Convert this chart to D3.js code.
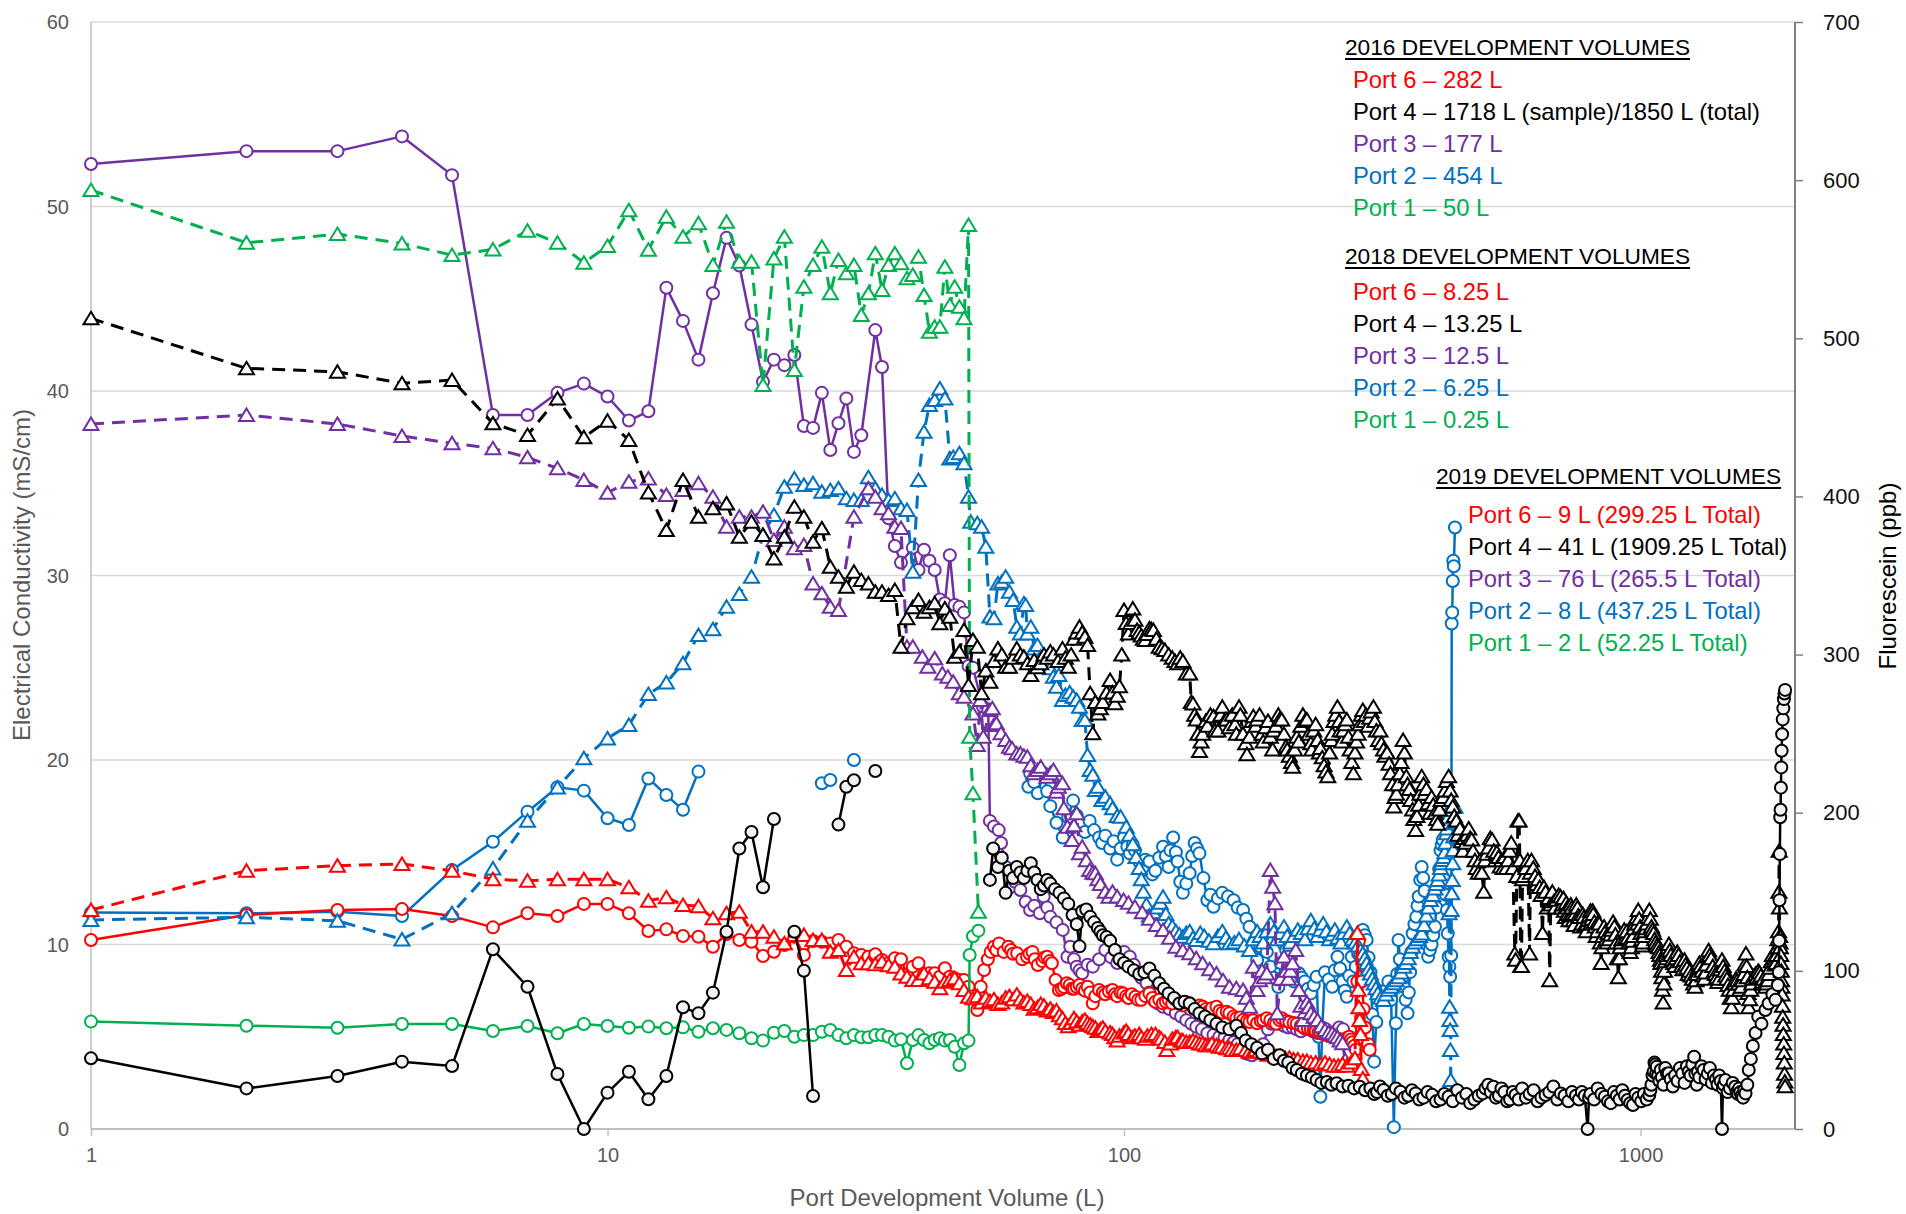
<!DOCTYPE html>
<html><head><meta charset="utf-8">
<script src="https://cdn.jsdelivr.net/npm/d3@7"></script>
<style>
body{margin:0;background:#fff}
svg{display:block}
text{font-family:"Liberation Sans",Arial,sans-serif}
</style>
</head><body>
<svg id="chart" width="1906" height="1214"></svg>
<script>
// ---------- tick labels ----------
const xTicks = [1, 10, 100, 1000];
const ecTicks = [0, 10, 20, 30, 40, 50, 60];
const fTicks = [0, 100, 200, 300, 400, 500, 600, 700];

// ---------- legend text ----------
const heading2016 = "2016 DEVELOPMENT VOLUMES";
const heading2018 = "2018 DEVELOPMENT VOLUMES";
const heading2019 = "2019 DEVELOPMENT VOLUMES";
const legend2016 = ["Port 6 – 282 L", "Port 4 – 1718 L (sample)/1850 L (total)", "Port 3 – 177 L", "Port 2 – 454 L", "Port 1 – 50 L"];
const legend2018 = ["Port 6 – 8.25 L", "Port 4 – 13.25 L", "Port 3 – 12.5 L", "Port 2 – 6.25 L", "Port 1 – 0.25 L"];
const legend2019 = ["Port 6 – 9 L (299.25 L Total)", "Port 4 – 41 L (1909.25 L Total)", "Port 3 – 76 L (265.5 L Total)", "Port 2 – 8 L (437.25 L Total)", "Port 1 – 2 L (52.25 L Total)"];
const portColors = ["#FF0000", "#000000", "#7030A0", "#0070C0", "#00B050"];

// ---------- Electrical conductivity (mS/cm), circles, solid ----------
const p1EC = [[1,5.82],[2,5.6],[3,5.49],[4,5.69],[5,5.69],[6,5.31],[7,5.58],[8,5.19],[9,5.69],[10,5.58],[11,5.49],[12,5.55],[13,5.46],[14,5.51],[15,5.27],[16,5.46],[17,5.37],[18,5.19],[19,4.92],[20,4.79],[21,5.22],[22,5.31],[23,5.0],[24,5.09],[25,5.09],[26,5.27],[27,5.37],[28,5.09],[29,4.92],[30,5.09],[31,4.97],[32,4.97],[33,5.09],[34,5.09],[35,5.0],[36,4.79],[37,4.86],[38,3.56],[39,4.82],[40,5.09],[41,4.82],[42,4.65],[43,4.82],[44,4.92],[45,4.79],[46,4.82],[47,4.46],[48,3.47],[49,4.65],[50,4.79],[50.25,9.43],[51,10.45],[52.25,10.75]];

const p2EC = [[1,11.73],[2,11.69],[3,11.78],[4,11.54],[5,14.04],[6,15.57],[7,17.2],[8,18.52],[9,18.34],[10,16.84],[11,16.48],[12,19.0],[13,18.1],[14,17.3],[15,19.37],[16,null],[26,18.74],[27,18.92],[28,null],[30,20.0],[31,null],
[65.3,18.55],[65.8,19.28],[67,18.8],[68.1,18.2],[69.9,19.28],[71,18.3],[72,17.5],[74,16.6],[76.1,15.8],[78,16.9],[79.7,17.8],[81,17.0],[82,16.5],[84,16.1],[85.8,16.7],[87.5,16.2],[89.5,15.8],[90.7,15.5],[92,15.9],[94,15.2],[95.5,15.6],[97,14.6],[98.5,15.2],[100,15.8],[101.5,15.3],[102.6,14.94],[104,15.4],[105,15.1],[107,14.5],[108.7,14.04],[110,14.6],[112,14.5],[113.5,13.8],[115,14.0],[117,14.7],[119,15.3],[120.5,14.8],[122,14.2],[123,15.1],[124.5,15.8],[126,15.0],[127,14.5],[128.5,13.4],[130,12.8],[132,13.3],[134,13.86],[135.5,14.8],[137,15.5],[138.5,15.2],[140,14.94],[142.5,13.6],[145,12.4],[147,12.7],[149,12.05],[152,12.5],[155,12.8],[159,12.6],[163,12.4],[166,12.0],[170,11.87],[172.5,11.4],[175,10.96],[178,10.1],[181,9.16],[183.5,9.9],[186,10.5],[189,9.6],[192,8.8],[195,8.2],[199,7.7],[201,9.0],[204,10.0],[206,9.7],[208,9.34],[210.5,8.6],[213,8.0],[215.5,8.3],[218,8.44],[221,8.2],[224,8.0],[227,7.6],[230,7.35],[233,7.8],[236,8.25],[238,5.0],[240,1.75],[242,5.5],[245,8.5],[249,8.1],[253,7.71],[256,8.6],[259,9.34],[262,8.7],[265,8.0],[267.5,7.5],[270,7.17],[273,8.3],[276,9.34],[278,8.0],[281,8.8],[284,9.5],[287,10.2],[290,10.79],[292.5,10.5],[295,10.24],[297.5,9.3],[300,8.5],[302.5,6.2],[305,3.65],[308,5.8],[311,7.5],[314,7.2],[317,6.99],[321,7.5],[325,8.0],[329,7.0],[333,0.1],[336,5.73],[338,8.4],[340,10.24],[342,9.2],[344,8.5],[346,8.0],[348,7.71],[351,7.0],[354,6.27],[356,7.4],[358,8.5],[360,9.6],[362,10.6],[365,11.1],[368,11.5],[370,12.1],[372,12.6],[374.5,13.5],[377,14.2],[379.5,13.6],[382,12.9],[385,11.2],[388,9.34],[391,9.7],[394,10.0],[397,10.5],[400,10.96],[402.5,12.0],[405,13.0],[407.5,14.1],[410,15.1],[412,15.4],[414,15.66],[416,14.6],[418,13.5],[420,12.7],[422,11.87],[423.5,10.6],[425,9.34],[426.5,8.8],[428,8.25],[430,9.4],[431,27.4],[432,28.0],[433,29.7],[434,30.8],[435,30.5],[437.25,32.6]];

const p3EC = [[1,52.3],[2,53.0],[3,53.0],[4,53.8],[5,51.7],[6,38.7],[7,38.7],[8,39.9],[9,40.4],[10,39.7],[11,38.4],[12,38.9],[13,45.6],[14,43.8],[15,41.7],[16,45.3],[17,48.3],[18,46.8],[19,43.6],[20,40.5],[21,41.7],[22,41.4],[23,41.95],[24,38.1],[25,38.0],[26,39.9],[27,36.8],[28,38.25],[29,39.6],[30,36.7],[31,37.6],[33,43.3],[34,41.3],[35,33.1],[36,31.6],[37,30.7],[39,31.5],[40,30.3],[41,31.4],[42,30.8],[43,30.3],[44,28.7],[45,28.5],[46,31.1],[47,28.4],[48,28.3],[49,28.0],[50,25.1],[51,25.0],[53.3,22.9],[54.6,22.7],[55,16.7],[56,16.4],[57.2,16.2],[57.8,15.5],[59,14.2],[60.2,13.1],[61.5,13.4],[63,12.95],[64.5,12.3],[65.8,11.87],[67,12.1],[68.7,11.69],[69.9,12.6],[71,12.0],[72,11.5],[74,11.2],[76.1,10.79],[77.7,9.34],[78.7,9.88],[80,9.2],[81,8.8],[82,8.6],[83,8.44],[85,8.9],[87,8.8],[89.5,9.2],[92,9.7],[94.5,9.3],[97,9.0],[100,9.6],[102.6,9.34],[104.5,8.9],[106,8.5],[108,8.2],[110.6,7.9],[112,7.4],[114,7.0],[116.5,6.8],[119,6.63],[122.5,6.5],[126,6.27],[129,6.1],[132,5.9],[135,5.7],[138,5.54],[141.5,5.4],[145,5.19],[149,5.1],[153,5.0],[156.5,4.95],[160,4.82],[163,4.7],[166,4.6],[169,4.3],[172,4.1],[174.5,4.05],[177,4.0],[181,4.3],[186,4.6],[190,5.4],[193,5.7],[197,5.8],[200,5.7],[204,5.6],[208,5.5],[212,5.5],[216,5.4],[220,5.3],[224,5.45],[228,5.4],[232,5.3],[237,5.2],[241,5.35],[246,5.4],[250,5.2],[255,5.1],[258,5.3],[261,5.5],[265.5,5.4]];

const p4EC = [[1,3.83],[2,2.2],[3,2.87],[4,3.65],[5,3.41],[6,9.74],[7,7.71],[8,2.98],[9,0],[10,1.97],[11,3.1],[12,1.61],[13,2.87],[14,6.6],[15,6.27],[16,7.39],[17,10.69],[18,15.2],[19,16.1],[20,13.1],[21,16.8],[22,null],[23,10.69],[24,8.58],[25,1.79],[26,null],[28,16.5],[29,18.55],[30,18.9],[31,null],[33,19.4],[34,null],
[55,13.5],[55.8,15.2],[57,14.2],[58,14.7],[59,12.8],[60,14.0],[61,13.6],[62,14.2],[63,13.9],[64,13.6],[65,14.0],[66,14.4],[67,13.9],[68,13.5],[69,13.0],[70,13.2],[71,13.5],[72,13.3],[73.5,13.0],[75,12.8],[76.5,12.5],[78,12.2],[79.5,11.6],[81,11.1],[82,9.9],[83,11.8],[84.5,11.9],[86,11.5],[87.5,11.2],[89,10.9],[90,10.7],[91,10.5],[92.5,10.4],[94,10.2],[96,9.7],[98,9.2],[100,9.0],[102,8.8],[104.5,8.6],[107,8.4],[109.5,8.5],[112,8.7],[114.5,8.3],[117,7.9],[119.5,7.6],[122,7.35],[125,7.1],[128,6.8],[131,6.9],[134,6.8],[137,6.5],[140,6.27],[143.5,6.1],[147,5.9],[151,5.7],[155,5.5],[160,5.4],[165,5.6],[168.5,5.2],[172,4.8],[176.5,4.6],[181,4.4],[185,4.1],[190,4.3],[195,3.8],[200,4.0],[204,3.7],[208,3.6],[212,3.3],[216,3.2],[221,3.0],[226,2.9],[231,2.8],[236,2.65],[241,2.5],[247,2.55],[252,2.4],[258,2.48],[265,2.3],[272,2.35],[279,2.2],[286,2.29],[293,2.1],
[300,2.2],[305,1.9],[309,2.0],[313,2.3],[318,2.11],[324,1.8],[330,1.9],[336,2.2],[343,2.02],[349,1.7],[355,1.8],[361,2.1],[367,1.93],[373,1.6],[380,1.7],[387,2.0],[395,1.85],[402,1.5],[410,1.6],[417,1.9],[425,1.75],[433,1.5],[442,2.1],[451,1.7],[460,1.9],[468,1.4],[477,1.6],[486,1.8],[495,1.93],[501,2.2],[507,2.4],[513,2.0],[519,2.29],[525,1.7],[532,1.8],[538,2.2],[545,2.0],[552,1.5],[559,1.6],[566,2.0],[573,1.84],[581,1.6],[590,2.2],[600,1.7],[610,1.9],[621,2.1],[632,1.5],[643,1.7],[655,1.84],[666,2.0],[678,2.3],[690,1.6],[701,1.93],[713,1.8],[725,1.5],[737,2.0],[750,1.8],[760,1.6],[770,2.0],[780,1.8],[790,0],[795,1.7],[800,1.9],[813,1.6],[826,2.2],[840,1.9],[853,1.75],[865,1.5],[876,1.4],[888,2.0],[900,1.8],[911,1.6],[922,2.1],[933,1.8],[944,1.57],[955,1.4],[967,1.3],[978,1.9],[990,1.7],[1003,1.5],[1015,1.9],[1028,1.6],[1040,1.84],[1045,2.1],[1050,2.4],[1055,2.9],[1060,3.1],[1064,3.6],[1068,3.5],[1072,3.0],[1075,3.38],[1082,2.9],[1088,2.6],[1094,3.2],[1100,2.8],[1108,2.4],[1117,3.3],[1125,3.0],[1134,3.02],[1144,2.7],[1155,2.3],[1167,2.9],[1180,2.6],[1192,3.3],[1205,3.0],[1217,2.5],[1230,3.4],[1240,3.1],[1250,2.9],[1260,3.5],[1270,3.92],[1277,3.0],[1285,2.4],[1292,3.1],[1300,2.8],[1312,3.4],[1325,3.2],[1337,2.7],[1350,3.0],[1362,3.3],[1375,2.5],[1387,2.9],[1400,2.7],[1410,2.4],[1420,2.9],[1430,2.6],[1438,0],[1444,2.2],[1450,2.4],[1460,2.65],[1475,2.0],[1490,2.2],[1508,2.5],[1525,2.29],[1535,2.0],[1545,1.9],[1552,2.2],[1560,2.0],[1570,1.8],[1580,1.7],[1588,2.1],[1597,1.93],[1610,2.4],[1620,3.2],[1635,3.8],[1650,4.5],[1670,5.2],[1690,6.09],[1715,5.7],[1745,6.45],[1770,6.8],[1800,7.3],[1825,7.0],[1845,7.8],[1852,8.5],[1855,10.2],[1858,12.4],[1861,14.9],[1864,16.9],[1867,17.3],[1870,18.5],[1873,19.6],[1876,20.5],[1880,21.4],[1885,22.2],[1890,22.8],[1895,23.3],[1900,23.6],[1905,23.8]];

const p6EC = [[1,10.24],[2,11.6],[3,11.87],[4,11.92],[5,11.54],[6,10.93],[7,11.69],[8,11.54],[9,12.2],[10,12.2],[11,11.69],[12,10.73],[13,10.82],[14,10.46],[15,10.42],[16,9.88],[17,10.57],[18,10.24],[19,10.15],[20,9.38],[21,9.61],[22,9.97],[23,10.42],[24,9.43],[25,10.19],[26,10.15],[27,10.06],[28,10.24],[29,9.88],[30,9.52],[31,9.43],[32,9.34],[33,9.47],[34,9.16],[35,8.98],[36,9.25],[37,9.2],[38,8.35],[39,8.8],[40,8.98],[41,8.35],[42,8.44],[43,8.44],[44,8.25],[45,8.71],[46,8.25],[47,8.17],[48,8.08],[49,8.08],[50,7.71],[51,7.2],[52,6.45],[52.8,7.71],[53.6,8.62],[54.5,9.2],[55.2,9.6],[56,9.88],[56.6,9.7],[57.3,10.06],[58.5,9.6],[59.7,9.88],[60.4,9.7],[61,9.5],[62.1,9.52],[63.5,9.2],[64.9,9.34],[65.6,9.5],[66.5,9.6],[67.2,9.2],[68.1,8.89],[69.5,9.1],[70.2,9.3],[71,9.34],[71.8,9.1],[72.5,8.98],[73.7,8.08],[74.8,7.53],[75.7,7.6],[76.5,7.7],[77.5,7.9],[78.5,7.8],[79.3,7.6],[80,7.6],[81,7.7],[82,7.8],[83,7.6],[84,7.5],[85,7.71],[86,7.4],[87,6.81],[88,7.2],[89.5,7.53],[91,7.4],[92,7.3],[93.5,7.45],[95,7.53],[96,7.3],[97,7.2],[98.5,7.4],[99.6,7.35],[101,7.2],[102,7.1],[103.5,7.3],[105.2,7.17],[106.5,7.0],[108,7.0],[110,7.2],[112,7.35],[113.5,7.1],[115,6.9],[117,7.0],[118.9,6.81],[120.5,6.9],[122,7.0],[124,6.8],[126,6.99],[128,6.8],[130,6.7],[132,6.85],[134,6.81],[136,6.6],[138,6.5],[140,6.7],[142,6.63],[144,6.5],[146,6.4],[148,6.55],[151,6.63],[153,6.4],[155,6.3],[158,6.35],[160,6.27],[163,6.1],[165,6.0],[168,6.05],[170,5.91],[173,5.85],[175,5.8],[178,5.9],[181,5.73],[184,5.85],[186,5.9],[189,6.0],[192,5.9],[195,5.75],[197,5.7],[200,5.9],[202,6.0],[206,5.85],[209,5.8],[213,5.75],[216,5.7],[220,5.6],[223,5.5],[227,5.45],[230,5.4],[233,5.35],[235,5.3],[238,5.25],[240,5.2],[243,5.15],[246,5.1],[250,5.05],[253,5.0],[256,4.95],[259,4.9],[262,4.85],[265,4.8],[267,4.85],[269,4.9],[271,4.95],[273,5.0],[275,4.85],[277,4.7],[279,4.5],[281,4.3],[283,8.0],[285,10.2],[287,9.5],[289,8.0],[291,6.5],[293,5.5],[295,4.5],[297,4.6],[299,4.3]];

// ---------- Fluorescein (ppb), triangles, dashed ----------
const p1F = [[1,593.7],[2,560.4],[3,565.9],[4,560],[5,552.6],[6,556.2],[7,568],[8,560.4],[9,547.8],[10,558.3],[11,581],[12,556],[13,576.9],[14,564.2],[15,572.7],[16,546.3],[17,573.7],[18,548.4],[19,548.4],[20,470.4],[21,550.5],[22,564.2],[23,479.9],[24,532.6],[25,546.3],[26,557.9],[27,528.5],[28,549.5],[29,541.1],[30,546.3],[31,514.7],[32,528.4],[33,553.7],[34,530.5],[35,546.3],[36,553.7],[37,547.4],[38,537.9],[39,540],[40,551.6],[41,527.3],[42,504.2],[43,507.3],[44,507.3],[45,545.3],[46,521],[47,532.6],[48,520],[49,512.6],[50,571.6],[50.25,248],[51,212.3],[52.25,137.4]];

const p2F = [[1,132.2],[2,133.9],[3,131.7],[4,119.9],[5,136.4],[6,164.8],[7,194.9],[8,216],[9,234.4],[10,247],[11,255.5],[12,275],[13,282.3],[14,294.5],[15,312.3],[16,316],[17,330.3],[18,338.3],[19,349.2],[20,375.6],[21,388.2],[22,406.1],[23,411.4],[24,407.2],[25,408.3],[26,403],[27,404],[28,405.1],[29,398.8],[30,397.7],[31,397.7],[32,412.1],[33,405.1],[34,400.9],[35,397.7],[36,398.8],[37,392.5],[38,391.4],[39,352.4],[40,410.4],[41,440.9],[42,457.8],[43,461],[44,468.3],[45,462],[46,424],[46.7,425],[48,427.3],[49,421],[50,399.8],[50.5,384],[52,383],[53,380.8],[54,368.2],[55,324],[56,323],[57,345],[58,346],[59,349.2],[60,339.7],[61,334.5],[62,317.6],[63,313.4],[64,332.4],[64.5,331.3],[65,313.4],[66,317.6],[67,303.9],[68,306],[69,298.6],[70,298.6],[71,292.3],[72,291.3],[73,286],[74,279.7],[74.8,287.1],[76,271.3],[77,274.4],[78.5,276],[79.7,273.4],[81,271.3],[82,267],[83,258.6],[84,258.6],[85,236.5],[86,227],[87,224],[88,214.4],[89,216.4],[90.6,208],[92,210.1],[94,206],[95,202.8],[97,198],[98.5,197.5],[101,191.1],[102.5,186],[104,180],[105.5,172],[107,165],[108,158],[109,150],[110.5,142],[112,135],[114,137],[116,140],[117.5,143],[119,146.9],[120.5,136],[122,130],[124,128],[126,125],[128,123],[130,121.6],[132,124],[134,125],[136,121],[138,119.5],[140.5,124],[143,122],[146,119],[149,117.4],[152,122],[155,125],[157.5,121],[160,117.4],[163.5,118],[167,120],[171,116],[175,113.2],[178,120],[181,125],[183.5,122],[186,118],[189,125],[192,130],[195,125],[198,120],[201,124],[204,128],[207,122],[210,118],[213.5,122],[217,126],[220.5,124],[224,120],[227,127],[230,132],[233.5,127],[237,122],[240,126],[243,130],[246.5,125],[250,120],[253,123],[256,126],[259.5,121],[263,118],[266.5,124],[270,128],[273.5,124],[277,120],[280.5,118],[284,116],[287,113],[290,111],[292.5,108],[295,105],[297.5,101],[300,98.4],[302.5,95],[305,92],[307.5,89],[310,85.8],[314,83],[318,81.6],[321.5,85],[325,88],[329,90],[333,92.1],[336.5,94],[340,96],[344,99],[348,102.6],[351.5,105],[355,108],[358.5,112],[362,115.3],[366,118],[370,120],[373.5,122],[377,123.7],[381,129],[385,135],[388.5,140],[392,144.8],[396,148],[400,152],[402.5,155],[405,157.4],[407.5,161],[410,165],[412,168],[414,170.1],[416,172],[418,175],[419.5,181],[421,187],[422,190],[423,193.3],[424,197],[425,201.7],[426,136.4],[427,77.3],[427.5,68.9],[428,62.6],[428.5,50],[429,31],[429.25,21.5],[430,138.5],[431,149],[432,157.4],[433,168],[434,176.4],[435,185],[436,194.3],[437.25,203.8]];

const p3F = [[1,445.8],[2,451.5],[3,445.8],[4,438.2],[5,433.6],[6,430.4],[7,424.7],[8,417.8],[9,410.4],[10,402.3],[11,409.3],[12,411.4],[13,400.9],[14,404],[15,408.3],[16,399.8],[17,380.8],[18,387.2],[19,387.2],[20,390.3],[21,372.4],[22,380.8],[23,367.2],[24,369.3],[25,345],[26,338.7],[27,330.3],[28,328.2],[30,387.2],[32,405.1],[33,399.8],[34,392.5],[35,389.3],[36,380.8],[37,380],[38,305],[39,305],[40.7,298.6],[41.7,292.3],[43,297.6],[44.5,288.1],[45.6,286],[46.7,282.8],[48,275.5],[49,273.4],[51,262.8],[52,242.8],[52.7,271.3],[53.4,248],[55,264.9],[55.6,266],[56,255.5],[56.6,256.5],[57.8,250.2],[59,246],[60,241.7],[60.7,240.7],[62,237.5],[63,237.5],[64,236],[65,235.4],[66,230],[66.9,224.9],[68,227],[69,229.1],[70.9,222.8],[72,225],[73,227],[74,213.3],[74.6,216.4],[76,218.6],[76.5,202.8],[77.7,191.1],[79.3,182.7],[80,192],[81,199.6],[82,174.3],[83,178.5],[84.5,170],[85.8,163.8],[87,162],[88,161.7],[89,158],[90,155],[92,150],[93.5,146.9],[95,150],[97,147],[99.8,144.8],[102,143],[105,140.6],[108.5,137],[112,133],[115.5,129],[119,125.8],[122.5,121],[126,115.3],[130,113],[134,111.1],[138,108],[142,104.8],[146.5,101],[151,98.4],[155.5,94],[160,90],[165,89],[170,87.9],[172.5,83],[175,77.3],[178,102.6],[181,87.9],[183,94],[185,100],[187,96],[189,98.4],[192,163.8],[194,153.2],[196,142.7],[198,73.2],[201,95],[204,109],[206,100],[208,95],[210,100],[212,104.8],[215,113.2],[218,87.9],[220,78],[222,68.9],[224,74],[226,80],[228,77],[230,73.2],[233.5,71],[237,68.9],[241,65],[245,62.6],[249,61],[253,60.5],[256,59],[259,58],[262,56],[265,54.2],[268,43.6]];

const p4F = [[1,512.6],[2,481],[3,478.8],[4,471.5],[5,473.6],[6,446.2],[7,438.8],[8,462],[9,437.4],[10,447.9],[11,435.7],[12,402.5],[13,378.7],[14,410.4],[15,387.2],[16,392.5],[17,395.6],[18,374.5],[19,384],[20,375.6],[21,360.8],[22,374.5],[23,393.5],[24,387.2],[25,371.4],[26,379.8],[27,355.5],[28,349.2],[29,342.9],[30,352.4],[31,347.1],[32,345],[33,339.7],[34,339.7],[35,337.6],[36,340.8],[37,305],[38,322.9],[39,330],[40,334.5],[41,327.1],[42,330],[43,332.4],[44,319.8],[45,329.2],[46,323.9],[47,298.6],[48,301.8],[49,315.5],[50,280.7],[51,309.2],[52,305],[53,275.5],[54,290],[55,282.8],[56,296],[57,303.9],[58,300],[59,292.3],[60,292.3],[61,298],[62,303.9],[63,300],[64,298.6],[65,294.5],[66,287.1],[67,296.5],[68,292],[69,294.5],[70,300],[71,298],[72,302],[73,300],[74.5,296],[76,303.9],[77,298],[78,292.3],[79,300],[80,310],[81,314],[82,317.6],[83,314],[84,311.3],[85,306],[86,275.5],[87,250.2],[88,270],[89,262.8],[90,266],[91,270],[92.5,276],[94,283.9],[95,276],[96,269.2],[97,274],[98,280],[99,300],[100,328.2],[101,320],[102,313.4],[103,320],[104,329.2],[105,322],[106,315.5],[107,314],[108,312],[109,310],[110,309.2],[111,313],[112,316.6],[113,316],[114,315.5],[115.5,310],[117,305],[118.5,304],[120,302.9],[122,300],[124,298],[125.5,296],[127,294.5],[128.5,298],[130,296],[132,288],[134,288],[135,270],[136,269],[137,262],[138,259],[139,250],[140,239],[141,245],[142,250],[144,258],[145,255],[147,262],[149,261],[150,252],[152,252],[154,262],[155,267],[157,259],[158,259],[160,254],[162,262],[164,256],[165,250],[167,267],[168,262],[170,250],[172,244],[173,237],[175,248],[177,258],[178,261],[180,255],[181,259],[183,262],[185,250],[186,245],[188,254],[190,258],[192,248],[194,240],[195,252],[197,255],[199,262],[200,259],[202,259],[204,250],[206,242],[207,240],[209,236],[211,232],[212,229],[214,240],[216,248],[218,245],[220,255],[222,262],[224,258],[226,259],[228,250],[230,244],[231,240],[233,252],[235,256],[237,246],[239,238],[240,241],[242,235],[244,230],[246,226],[248,223],[250,238],[252,246],[253,250],[255,258],[257,262],[259,267],[261,258],[262,252],[264,245],[266,252],[268,256],[270,259],[272,248],[274,240],[276,232],[278,225],[280,238],[282,245],[284,250],[286,256],[288,262],[290,265],[292,258],[294,262],[297,255],[299,260],[301,264],[304,267],[306,258],[308,252],[311,246],[313,252],[315,244],[318,240],[320,236],[323,238],[326,231],[328,225],[331,218],[333,204],[335,210],[337,212],[339,218],[342,225],[344,232],[347,246],[349,238],[352,223],[354,218],[357,215],[359,208],[362,202],[364,196],[367,189],[369,198],[372,205],[374,212],[377,223],[380,218],[382,212],[385,215],[388,206],[391,200],[394,210],[397,205],[400,200],[403,196],[405,193],[408,202],[411,208],[415,210],[418,214],[421,220],[425,223],[428,214],[430,208],[433,204],[436,198],[440,195],[443,186],[447,190],[450,182],[453,176],[456,184],[459,181],[462,186],[465,190],[468,184],[471,183],[474,176],[478,170],[481,165],[485,162],[489,170],[493,162],[497,150],[500,170],[504,174],[508,178],[512,184],[516,183],[520,176],[524,170],[527,175],[531,172],[535,166],[538,170],[542,165],[546,172],[550,165],[554,170],[558,176],[562,181],[566,165],[571,111],[573,107],[576,160],[579,195],[582,195],[584,170],[586,103],[588,103],[591,158],[595,160],[600,165],[605,170],[610,111],[612,162],[615,170],[620,165],[625,160],[630,155],[634,158],[638,153],[642,148],[646,124],[650,153],[655,150],[660,140],[664,146],[667,94],[670,142],[675,150],[680,144],[684,140],[688,145],[694,148],
[700,147],[703,140],[706,142],[709,146],[712,138],[715,134],[718,143],[721,140],[724,136],[727,132],[730,135],[733,142],[736,140],[739,136],[741,132],[744,129],[747,136],[751,142],[755,140],[758,135],[762,134],[766,128],[770,130],[773,136],[777,134],[781,129],[785,125],[788,130],[792,132],[796,135],[800,138],[802,130],[805,133],[808,138],[810,136],[814,131],[817,128],[821,122],[825,125],[828,131],[832,130],[836,118],[839,105],[842,115],[846,122],[850,128],[855,125],[858,120],[862,118],[866,124],[870,120],[875,123],[880,126],[885,131],[890,128],[894,123],[898,118],[902,108],[906,96],[910,108],[913,115],[917,118],[920,120],[925,124],[930,126],[935,121],[940,125],[945,121],[950,118],[955,112],[960,115],[964,119],[968,122],[971,127],[975,130],[979,133],[983,134],[987,130],[990,138.5],[994,133],[998,128],[1002,124],[1005,120],[1009,116],[1012,118],[1016,122],[1020,125],[1025,127],[1030,130],[1035,134],[1040,138.5],[1045,133],[1050,128],[1055,126],[1060,124],[1065,120],[1070,118],[1076,116],[1083,115],[1086,112],[1090,110],[1093,107],[1095,105],[1098,100],[1100,96],[1103,88],[1106,80],[1110,92],[1113,100],[1116,106],[1120,110],[1124,108],[1128,113],[1131,115],[1135,117],[1140,113],[1145,110],[1152,107],[1160,105],[1166,103],[1172,108],[1178,112],[1185,110],[1192,106],[1200,103],[1208,101],[1217,107],[1223,104],[1230,102],[1237,98],[1245,100],[1252,97],[1260,95],[1267,92],[1275,90],[1281,94],[1288,98],[1294,102],[1300,105],[1307,103],[1315,100],[1322,97],[1330,95],[1336,99],[1343,104],[1349,109],[1355,113],[1362,110],[1370,108],[1380,103],[1390,100],[1397,98],[1405,96],[1412,93],[1420,95],[1429,101],[1438,107],[1446,103],[1455,100],[1462,97],[1470,95],[1477,91],[1485,88],[1492,83],[1500,77],[1507,83],[1515,88],[1522,92],[1530,95],[1539,94],[1548,92],[1557,88],[1567,90],[1576,94],[1585,98],[1592,104],[1600,111],[1605,103],[1610,96],[1615,86],[1620,77],[1627,82],[1635,88],[1642,92],[1650,95],[1660,97],[1670,98],[1680,96],[1690,100],[1700,99],[1710,97],[1720,93],[1730,95],[1739,92],[1748,90],[1756,92],[1765,94],[1773,98],[1782,102],[1791,106],[1800,110],[1808,108],[1815,106],[1822,104],[1830,105],[1835,110],[1840,115],[1845,120],[1850,125],[1853,150],[1855,176],[1858,140],[1860,122],[1862,118],[1865,115],[1868,110],[1870,105],[1873,100],[1875,94],[1878,90],[1880,85],[1883,78],[1885,71],[1888,66],[1890,60],[1893,54],[1895,48],[1898,42],[1900,35],[1903,30],[1905,27]];

const p6F = [[1,138.5],[2,163.3],[3,166.5],[4,167.6],[5,163.3],[6,157.9],[7,157],[8,157.9],[9,157.9],[10,157.9],[11,152.8],[12,144.4],[13,146.5],[14,141.6],[15,140.9],[16,133.2],[17,136.4],[18,137.4],[19,124.8],[20,124.8],[21,121.6],[22,117.4],[23,122.7],[24,122.7],[25,119.5],[26,119.5],[27,112.1],[28,113.2],[29,100.5],[30,108.9],[31,104.8],[32,104.8],[33,104.2],[34,105.8],[35,103.6],[36,102.6],[37,98.4],[38,96.3],[39,94.2],[40,94.2],[41,98.4],[42,95.3],[43,93.1],[44,89],[45,93.1],[46,94.2],[47,95.3],[48,92.1],[49,87.9],[50,83.7],[51,82.6],[52,84],[53,80],[54,83],[55,81],[56,82],[57,79],[58,80],[59,83],[60,84],[61,82],[62,85],[63,82],[64,80],[65,81],[66,79],[67,76],[68,77],[69,79],[70,78],[71,75],[72,76],[73,74],[74,75],[75,72],[76,70],[77,67],[78,65],[79,67],[80,70],[81,68],[82,66],[83,68],[84,69],[85,67],[86,66],[87,65],[88,64],[89,62],[90,63],[91,64],[92,62],[94,61],[95,60],[96,58],[97,56],[98,59],[100,61],[101,62],[102,60],[104,58],[105,59],[107,60],[108,58],[110,57],[111,59],[113,60],[115,60],[117,58],[118,57],[120,55],[121,50],[123,54],[124,57],[126,58],[127,58],[129,56],[130,56],[132,55],[134,55],[136,56],[138,55],[140,54],[142,54],[144,53],[146,53],[148,54],[151,53],[153,52],[155,52],[158,51],[160,51],[162,50],[165,50],[168,51],[172,50],[175,49],[178,49],[180,50],[183,49],[186,48],[190,47],[193,48],[197,46],[201,46],[205,45],[209,45],[213,44],[217,44],[222,43],[226,43],[230,42],[235,42],[240,41],[245,42],[250,41],[255,40],[260,40],[265,41],[270,40],[275,42],[280,44.7],[283,124],[284,88],[285,77],[286,69],[287,60],[288,38],[290,32]];

// ---------- chart ----------
const svg = d3.select("#chart");
const L = 91, R = 1795, T = 22, B = 1129;
const x = d3.scaleLog().domain([1, 2000]).range([L, 1796]);
const yEC = d3.scaleLinear().domain([0, 60]).range([B, T]);
const yF = d3.scaleLinear().domain([0, 700]).range([B, T]);

// gridlines
svg.append("g").selectAll("line").data(ecTicks.filter(d => d > 0)).join("line")
  .attr("x1", L).attr("x2", R).attr("y1", d => yEC(d)).attr("y2", d => yEC(d))
  .attr("stroke", "#d9d9d9").attr("stroke-width", 1.5);

// left axis line & labels
svg.append("line").attr("x1", L).attr("x2", L).attr("y1", T).attr("y2", B)
  .attr("stroke", "#bfbfbf").attr("stroke-width", 1.5);
svg.append("g").selectAll("text").data(ecTicks).join("text")
  .attr("x", 69).attr("y", d => yEC(d)).attr("dy", "0.35em")
  .attr("text-anchor", "end").attr("font-size", 20).attr("fill", "#595959").text(d => d);

// bottom axis
const xAxis = d3.axisBottom(x).tickValues(xTicks).tickFormat(d3.format("d")).tickSize(7).tickPadding(12);
const gx = svg.append("g").attr("transform", `translate(0,${B})`).call(xAxis);
gx.select(".domain").attr("stroke", "#bfbfbf").attr("stroke-width", 2).attr("d", `M${L},0H${R}`);
gx.selectAll(".tick line").attr("stroke", "#bfbfbf").attr("stroke-width", 1.5);
gx.selectAll(".tick text").attr("font-size", 20).attr("fill", "#595959")
  .attr("font-family", "Liberation Sans, Arial, sans-serif");

// right axis
const yAxisR = d3.axisRight(yF).tickValues(fTicks).tickSize(8).tickPadding(20);
const gr = svg.append("g").attr("transform", `translate(${R},0)`).call(yAxisR);
gr.select(".domain").attr("stroke", "#7f7f7f").attr("stroke-width", 2).attr("d", `M0,${T}V${B}`);
gr.selectAll(".tick line").attr("stroke", "#7f7f7f").attr("stroke-width", 1.5);
gr.selectAll(".tick text").attr("font-size", 22).attr("fill", "#111")
  .attr("font-family", "Liberation Sans, Arial, sans-serif");

// axis titles
svg.append("text").attr("transform", "translate(30,575) rotate(-90)").attr("text-anchor", "middle")
  .attr("font-size", 24).attr("fill", "#595959").text("Electrical Conductivity (mS/cm)");
svg.append("text").attr("transform", "translate(1896,576) rotate(-90)").attr("text-anchor", "middle")
  .attr("font-size", 24).attr("fill", "#000").text("Fluorescein (ppb)");
svg.append("text").attr("x", 947).attr("y", 1206).attr("text-anchor", "middle")
  .attr("font-size", 24).attr("fill", "#595959").text("Port Development Volume (L)");

// series
const triPath = "M0,-6.5L7.5,6L-7.5,6Z";
function drawSeries(data, color, yScale, kind, fill) {
  const g = svg.append("g");
  const line = d3.line().defined(d => d[1] != null).x(d => x(d[0])).y(d => yScale(d[1]));
  g.append("path").attr("d", line(data)).attr("fill", "none").attr("stroke", color)
    .attr("stroke-width", kind === "tri" ? 3 : 2.5)
    .attr("stroke-dasharray", kind === "tri" ? "13,8" : null)
    .attr("stroke-linejoin", "round");
  const pts = data.filter(d => d[1] != null);
  if (kind === "tri") {
    g.selectAll("path.m").data(pts).join("path").attr("class", "m")
      .attr("d", triPath).attr("transform", d => `translate(${x(d[0])},${yScale(d[1])})`)
      .attr("fill", fill || "#fff").attr("stroke", color).attr("stroke-width", 2);
  } else {
    g.selectAll("circle").data(pts).join("circle")
      .attr("cx", d => x(d[0])).attr("cy", d => yScale(d[1])).attr("r", 6)
      .attr("fill", fill || "#fff").attr("stroke", color).attr("stroke-width", 2);
  }
}
drawSeries(p2EC, "#0070C0", yEC, "circ");
drawSeries(p3EC, "#7030A0", yEC, "circ");
drawSeries(p6EC, "#FF0000", yEC, "circ");
drawSeries(p1EC, "#00B050", yEC, "circ");
drawSeries(p2F, "#0070C0", yF, "tri");
drawSeries(p3F, "#7030A0", yF, "tri");
drawSeries(p6F, "#FF0000", yF, "tri");
drawSeries(p1F, "#00B050", yF, "tri");
drawSeries(p4F, "#000000", yF, "tri");
drawSeries(p4EC, "#000000", yEC, "circ", "#f2f2f2");

// legend text blocks
function block(heading, items, hx, hy, ix, iy0, step) {
  const h = svg.append("text").attr("x", hx).attr("y", hy).attr("font-size", 22.7).attr("fill", "#000").text(heading);
  const w = h.node().getComputedTextLength();
  svg.append("line").attr("x1", hx).attr("x2", hx + w).attr("y1", hy + 4).attr("y2", hy + 4)
    .attr("stroke", "#000").attr("stroke-width", 2);
  svg.append("g").selectAll("text").data(items).join("text")
    .attr("x", ix).attr("y", (d, i) => iy0 + i * step).attr("font-size", 23.8)
    .attr("fill", (d, i) => portColors[i]).text(d => d);
}
block(heading2016, legend2016, 1345, 55, 1353, 88, 32);
block(heading2018, legend2018, 1345, 264, 1353, 300, 32);
block(heading2019, legend2019, 1436, 484, 1468, 523, 32);
</script>
</body></html>
